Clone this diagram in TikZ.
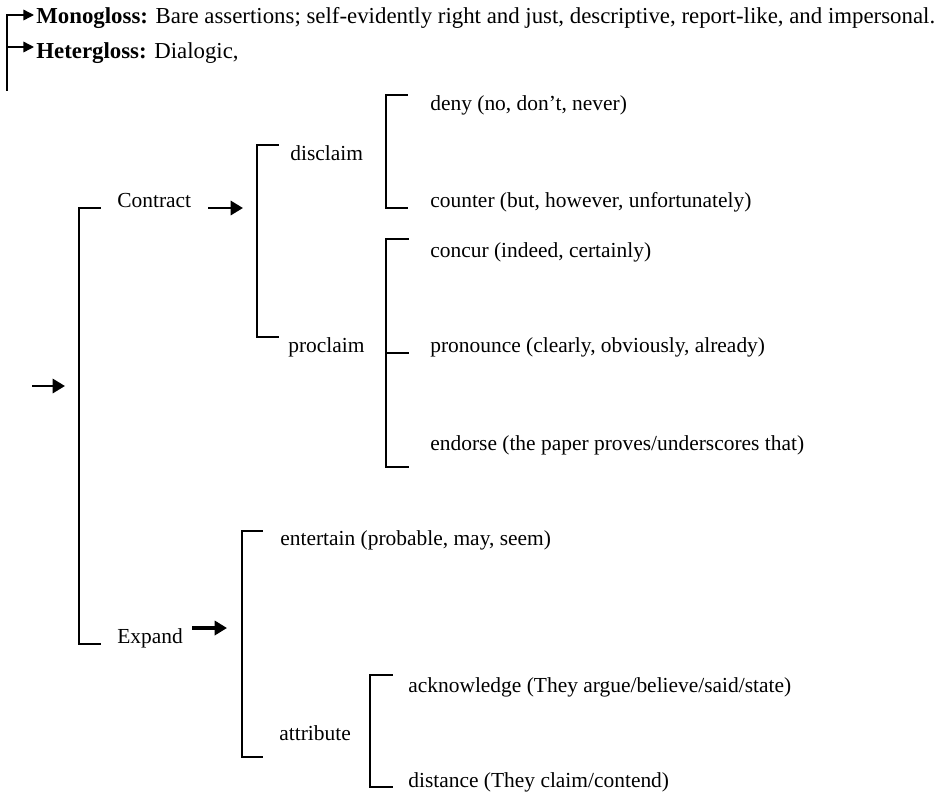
\documentclass[tikz,border=0pt]{standalone}
\usepackage{fontspec}
\setmainfont{Liberation Serif}
\usetikzlibrary{arrows.meta}
\tikzset{
  lbl/.style={anchor=base west, inner sep=0pt, font=\fontsize{12.2}{15}\selectfont},
  toplbl/.style={anchor=base west, inner sep=0pt, font=\fontsize{13}{16}\selectfont},
  brk/.style={line width=0.8pt, line cap=rect},
  thinarr/.style={line width=0.8pt, -{Triangle[length=6pt,width=6pt]}},
  arr/.style={line width=1.6pt, -{Triangle[length=7pt,width=8pt]}},
}
\begin{document}
\begin{tikzpicture}[x=0.02cm,y=-0.02cm]
    \useasboundingbox (0,0) rectangle (946,795);

    % Gloss lines
    \node[toplbl] (mono) at (36,23) {\textbf{Monogloss:} Bare assertions; self-evidently right and just, descriptive, report-like, and impersonal.};
    \node[toplbl] (hetero) at (36,58) {\textbf{Hetergloss:} Dialogic,};
    \coordinate (g0) at (7,90);
    \coordinate (g1) at (7,15);
    \coordinate (g2) at (7,47);
    \draw[brk] (g0) -- (g1);
    \draw[thinarr] (g1) -- (34,15);
    \draw[thinarr] (g2) -- (34,47);

    % Labels
    \node[lbl] (contract) at (117,207) {Contract};
    \node[lbl] (expand) at (117,643) {Expand};
    \node[lbl] (disclaim) at (290,160) {disclaim};
    \node[lbl] (proclaim) at (288,352) {proclaim};
    \node[lbl] (deny) at (430,110) {deny (no, don't, never)};
    \node[lbl] (counter) at (430,207) {counter (but, however, unfortunately)};
    \node[lbl] (concur) at (430,257) {concur (indeed, certainly)};
    \node[lbl] (pronounce) at (430,352) {pronounce (clearly, obviously, already)};
    \node[lbl] (endorse) at (430,450) {endorse (the paper proves/underscores that)};
    \node[lbl] (entertain) at (280,545) {entertain (probable, may, seem)};
    \node[lbl] (attribute) at (279,740) {attribute};
    \node[lbl] (acknowledge) at (408,692) {acknowledge (They argue/believe/said/state)};
    \node[lbl] (distance) at (408,787) {distance (They claim/contend)};

    % Arrows
    \coordinate (inS) at (32,386);
    \coordinate (inE) at (65,386);
    \coordinate (cS) at (208,208);
    \coordinate (cE) at (243,208);
    \coordinate (eS) at (192,628);
    \coordinate (eE) at (227,628);
    \draw[arr] (inS) -- (inE);
    \draw[arr] (cS) -- (cE);
    \draw[arr, line width=2.2pt] (eS) -- (eE);

    % Brackets
    \draw[brk] (100,208) -- (79,208) -- (79,644) -- (100,644);
    \draw[brk] (278,145) -- (257,145) -- (257,337) -- (278,337);
    \draw[brk] (407,95) -- (386,95) -- (386,208) -- (407,208);
    \draw[brk] (408,239) -- (386,239) -- (386,467) -- (408,467);
    \draw[brk] (386,353) -- (408,353);
    \draw[brk] (262,531) -- (242,531) -- (242,757) -- (262,757);
    \draw[brk] (392,675) -- (370,675) -- (370,787) -- (392,787);
\end{tikzpicture}
\end{document}
